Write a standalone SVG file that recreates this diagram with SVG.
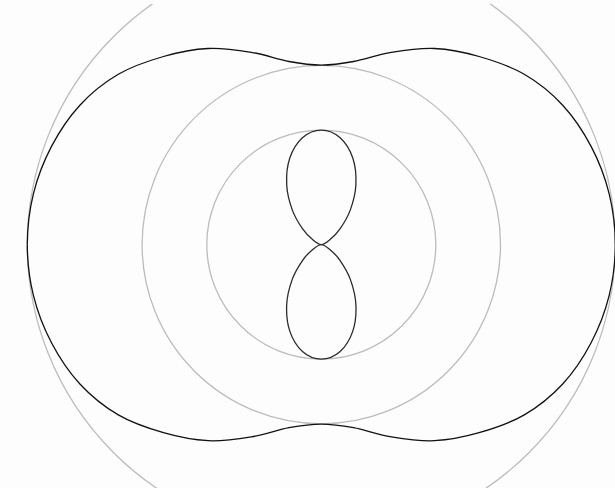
<svg xmlns="http://www.w3.org/2000/svg" width="615" height="488" viewBox="0 0 615 488">
  <style>
    .grid { fill: none; stroke: #bcbcbc; stroke-width: 1.3; }
    .outer { fill: none; stroke: #111111; stroke-width: 1.3; }
    .inner { fill: none; stroke: #2a2a2a; stroke-width: 1.3; }
  </style>
  <defs>
    <clipPath id="frame"><rect x="0" y="4" width="615" height="484"/></clipPath>
    <path id="outerQ" d="M-294,0 C-294,-16.93 -291.93,-34.43 -287.9,-50.8 C-283.87,-67.17 -277.55,-83.43 -269.8,-98.2 C-262.05,-112.97 -252.53,-127.38 -241.4,-139.4 C-230.27,-151.42 -216.93,-162.18 -203,-170.3 C-189.07,-178.42 -172.77,-183.8 -157.8,-188.1 C-142.83,-192.4 -127.83,-195.4 -113.2,-196.1 C-98.57,-196.8 -83.48,-194.47 -70,-192.3 C-56.52,-190.13 -43.97,-185.23 -32.3,-183.1 C-20.63,-180.97 -10.77,-179.5 0,-179.5"/>
    <path id="innerQ" d="M0,0 C-2.92,0 -5.65,-2.45 -8.76,-5.06 C-11.87,-7.67 -15.31,-10.76 -18.67,-15.67 C-22.04,-20.58 -26.3,-27.12 -28.95,-34.5 C-31.61,-41.88 -34.18,-51.26 -34.6,-59.93 C-35.03,-68.61 -34.13,-78.73 -31.5,-86.55 C-28.87,-94.37 -24.09,-102.21 -18.84,-106.87 C-13.59,-111.53 -6.28,-114.5 0,-114.5"/>
  </defs>
  <rect x="0" y="0" width="615" height="488" fill="#fdfdfd"/>
  <g clip-path="url(#frame)">
    <g transform="translate(321.3,244.6)">
      <g id="grid-circles">
        <circle class="grid" cx="0" cy="0" r="294"/>
        <circle class="grid" cx="0" cy="0" r="179.2"/>
        <circle class="grid" cx="0" cy="0" r="114.5"/>
      </g>
      <g id="outer-curve" class="outer">
        <use href="#outerQ"/>
        <use href="#outerQ" transform="scale(-1,1)"/>
        <use href="#outerQ" transform="scale(1,-1)"/>
        <use href="#outerQ" transform="scale(-1,-1)"/>
      </g>
      <g id="inner-curve" class="inner">
        <use href="#innerQ"/>
        <use href="#innerQ" transform="scale(-1,1)"/>
        <use href="#innerQ" transform="scale(1,-1)"/>
        <use href="#innerQ" transform="scale(-1,-1)"/>
      </g>
    </g>
  </g>
</svg>
